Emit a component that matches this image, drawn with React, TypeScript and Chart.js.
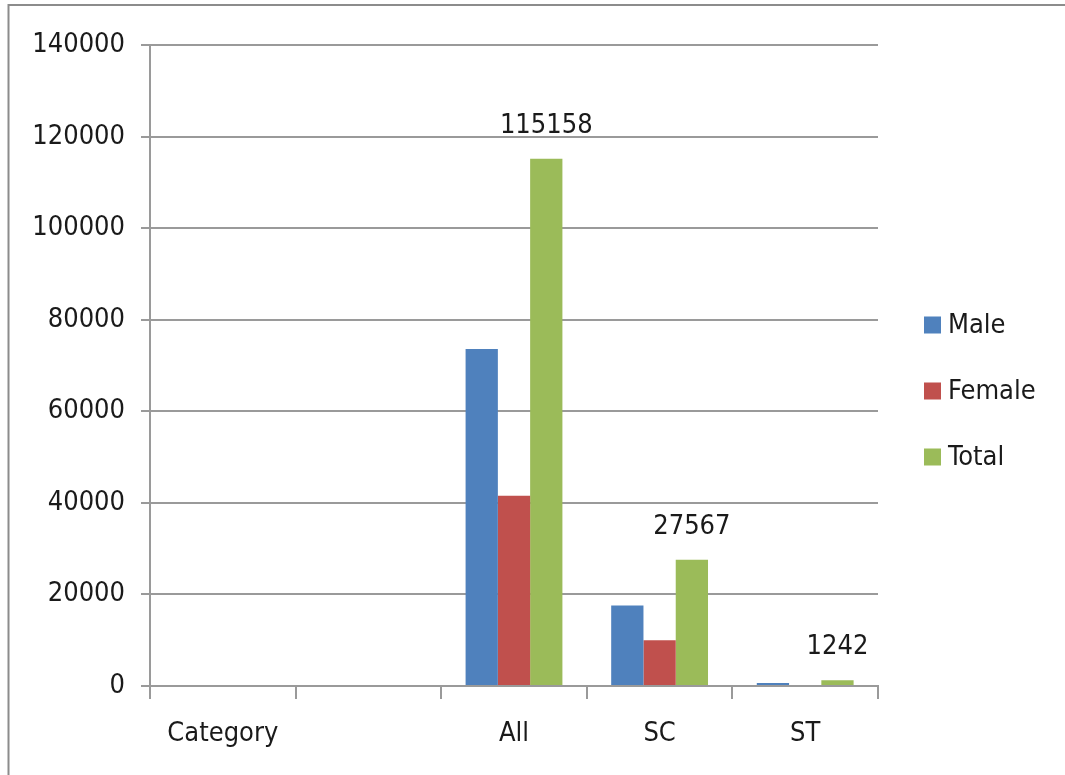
import React, { useEffect, useRef } from "react";
import { Chart, registerables } from "chart.js";

Chart.register(...registerables);

const categories = ["Category", "", "All", "SC", "ST"];
const maleValues = [null, null, 73600, 17600, 650];
const femaleValues = [null, null, 41558, 9967, 0];
const totalValues = [null, null, 115158, 27567, 1242];
const yTicks = [0, 20000, 40000, 60000, 80000, 100000, 120000, 140000];

const FONT = "'DejaVu Sans Condensed', 'Open Sans', sans-serif";
const FONT_SIZE = 27;
const GRID = "#9a9a9a";

// Frame lines along the top and left edges of the figure
const framePlugin = {
  id: "frame",
  beforeDraw(chart: any) {
    const { ctx, width, height } = chart;
    ctx.save();
    ctx.fillStyle = "#ffffff";
    ctx.fillRect(0, 0, width, height);
    ctx.strokeStyle = "#8c8c8c";
    ctx.lineWidth = 2;
    ctx.beginPath();
    ctx.moveTo(8.5, height);
    ctx.lineTo(8.5, 5);
    ctx.lineTo(width, 5);
    ctx.stroke();
    ctx.restore();
  },
};

// Value labels above the "Total" bars
const totalLabelPlugin = {
  id: "totalLabels",
  afterDatasetsDraw(chart: any) {
    const { ctx } = chart;
    const idx = chart.data.datasets.findIndex((d: any) => d.label === "Total");
    if (idx < 0) return;
    const meta = chart.getDatasetMeta(idx);
    ctx.save();
    ctx.font = `${FONT_SIZE}px ${FONT}`;
    ctx.fillStyle = "#1a1a1a";
    ctx.textAlign = "center";
    ctx.textBaseline = "alphabetic";
    meta.data.forEach((bar: any, i: number) => {
      const v = chart.data.datasets[idx].data[i];
      if (v == null) return;
      ctx.fillText(String(v), bar.x, bar.y - 26);
    });
    ctx.restore();
  },
};

// Legend on the right, one entry per series
const sideLegendPlugin = {
  id: "sideLegend",
  afterDraw(chart: any) {
    const { ctx, chartArea } = chart;
    const x = chartArea.right + 46;
    const y0 = chartArea.top + 280;
    const step = 66;
    ctx.save();
    ctx.font = `${FONT_SIZE}px ${FONT}`;
    ctx.textAlign = "left";
    ctx.textBaseline = "middle";
    chart.data.datasets.forEach((ds: any, i: number) => {
      const cy = y0 + i * step;
      ctx.fillStyle = ds.backgroundColor;
      ctx.fillRect(x, cy - 8.5, 17, 17);
      ctx.fillStyle = "#1a1a1a";
      ctx.fillText(ds.label, x + 24, cy + 1);
    });
    ctx.restore();
  },
};

export default function App() {
  const canvasRef = useRef<HTMLCanvasElement | null>(null);

  useEffect(() => {
    document.body.style.margin = "0";
    const canvas = canvasRef.current;
    if (!canvas) return;
    const chart = new Chart(canvas, {
      type: "bar",
      data: {
        labels: categories,
        datasets: [
          { label: "Male", data: maleValues, backgroundColor: "#4F81BD" },
          { label: "Female", data: femaleValues, backgroundColor: "#C0504D" },
          { label: "Total", data: totalValues, backgroundColor: "#9BBB59" },
        ],
      },
      options: {
        responsive: true,
        maintainAspectRatio: false,
        animation: false,
        datasets: {
          bar: { categoryPercentage: 0.665, barPercentage: 1, borderWidth: 0 },
        },
        layout: { padding: { top: 45, right: 187, left: 0, bottom: 0 } },
        plugins: {
          legend: { display: false },
          tooltip: { enabled: false },
        },
        scales: {
          x: {
            offset: true,
            border: { display: true, color: GRID, width: 2 },
            grid: {
              offset: true,
              drawOnChartArea: false,
              drawTicks: true,
              tickLength: 13,
              color: GRID,
              lineWidth: 2,
            },
            ticks: {
              color: "#1a1a1a",
              font: { family: FONT, size: FONT_SIZE },
              padding: 19,
              maxRotation: 0,
              autoSkip: false,
            },
            afterFit: (axis: any) => {
              axis.height = 89;
            },
          },
          y: {
            min: 0,
            max: 140000,
            afterBuildTicks: (axis: any) => {
              axis.ticks = yTicks.map((v) => ({ value: v }));
            },
            border: { display: true, color: GRID, width: 2 },
            grid: {
              color: GRID,
              lineWidth: 2,
              drawTicks: true,
              tickLength: 9,
            },
            ticks: {
              color: "#1a1a1a",
              font: { family: FONT, size: FONT_SIZE },
              padding: 16,
              callback: (v: any) => String(v),
            },
            afterFit: (axis: any) => {
              axis.width = 150;
            },
          },
        },
      },
      plugins: [framePlugin, totalLabelPlugin, sideLegendPlugin],
    });
    return () => chart.destroy();
  }, []);

  return (
    <div style={{ position: "absolute", left: 0, top: 0, width: 1065, height: 775 }}>
      <canvas ref={canvasRef} />
    </div>
  );
}
